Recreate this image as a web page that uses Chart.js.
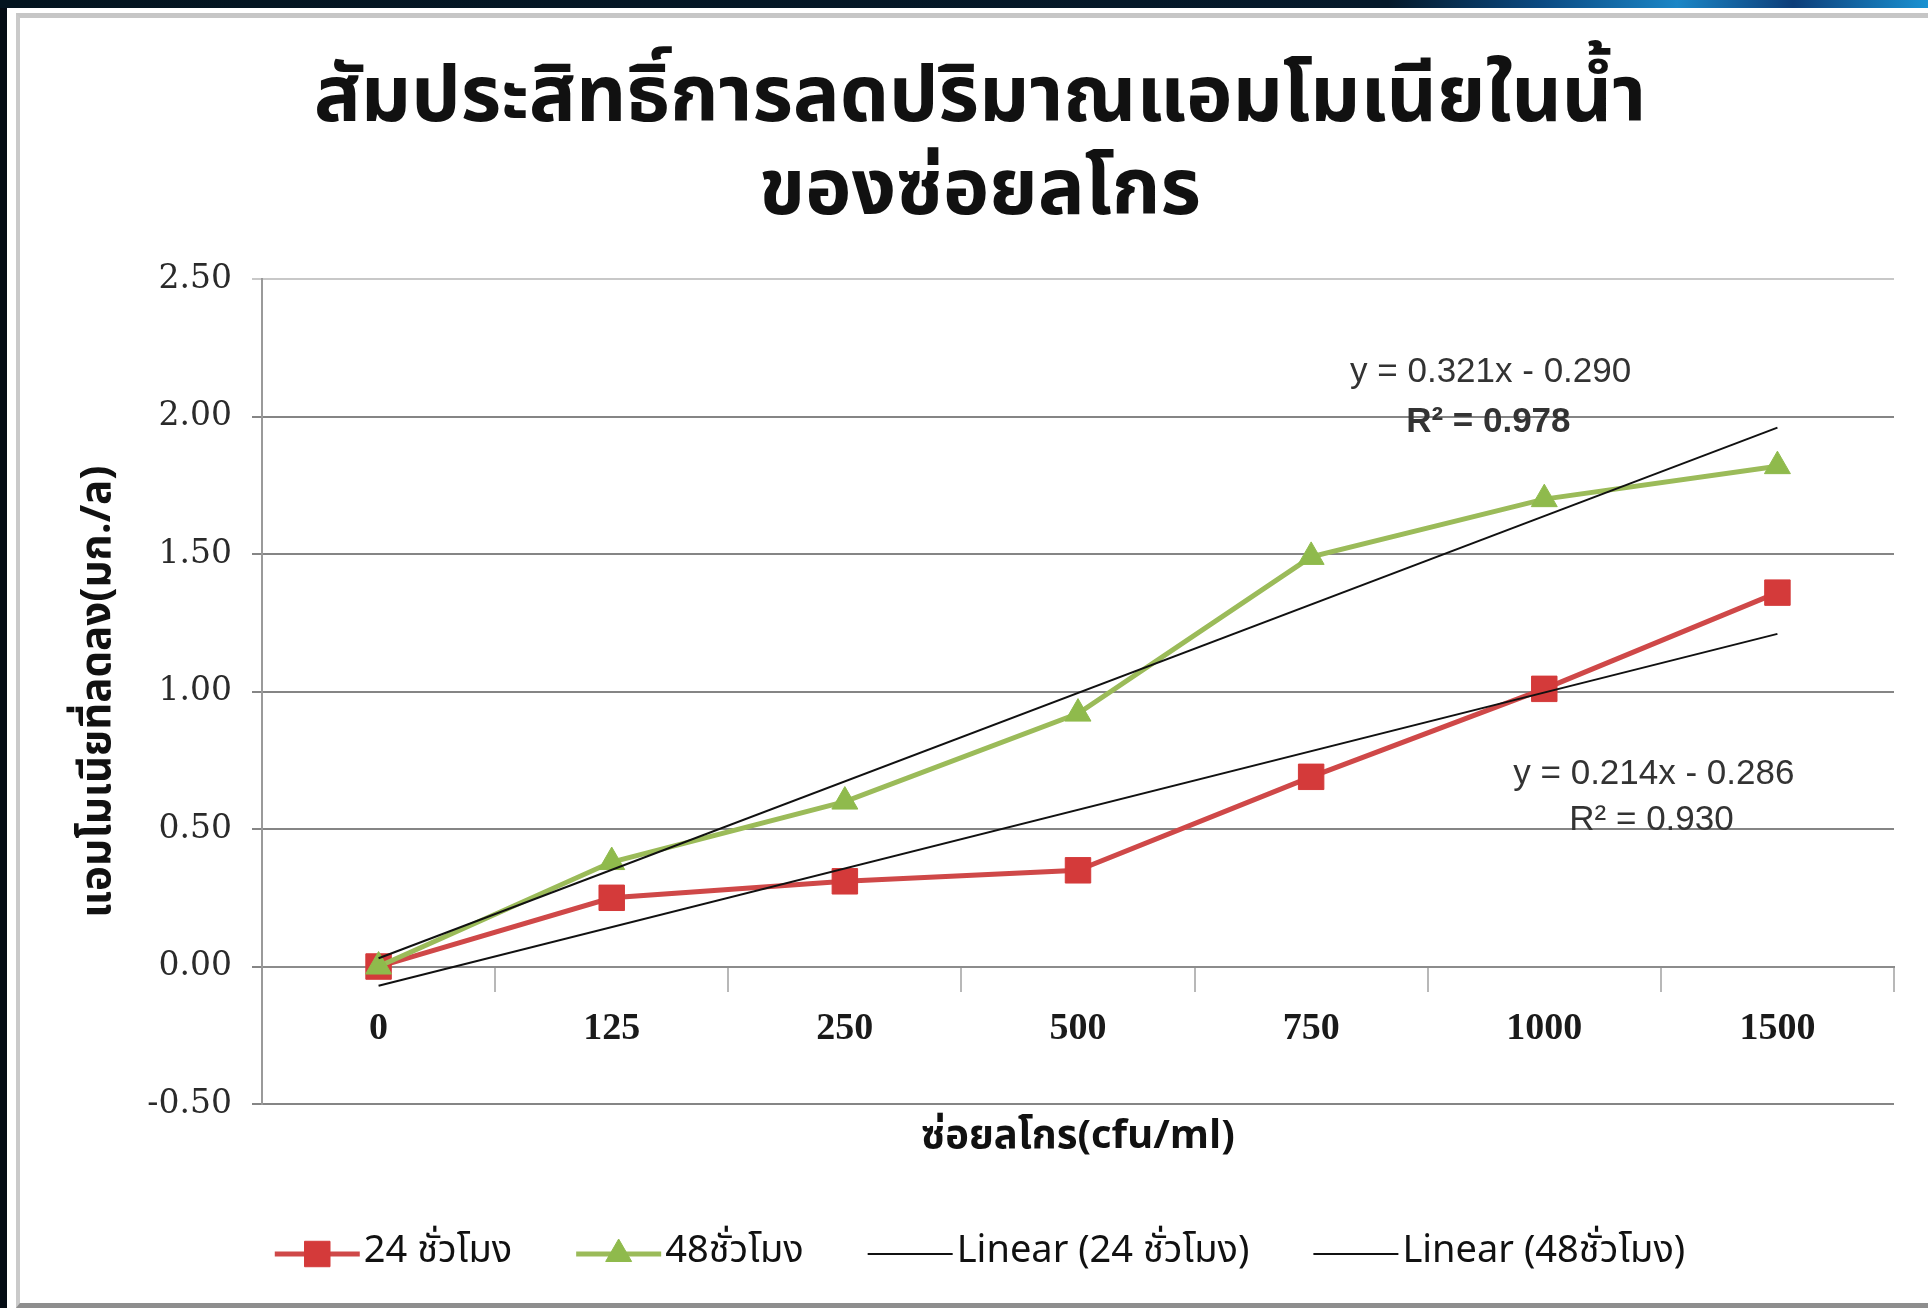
<!DOCTYPE html>
<html>
<head>
<meta charset="utf-8">
<script src="https://cdn.jsdelivr.net/npm/chart.js@4.4.0/dist/chart.umd.min.js"></script>
<style>
  html, body { margin: 0; padding: 0; width: 1928px; height: 1308px; overflow: hidden; background: #040c14; }
  #band { position: absolute; left: 0; top: 0; width: 1928px; height: 8px;
    background: linear-gradient(90deg, #03141f 0%, #05192a 72%, #0b4a82 80%, #1b86c6 87%, #0d3d78 93%, #1a92d2 100%); }
  #sheet { position: absolute; left: 7px; top: 8px; right: 0; bottom: 0; background: #fff; }
  #frame { position: absolute; left: 16px; top: 13px; width: 1920px; height: 1295px; box-sizing: border-box;
    border-top: 5px solid #c6c6c6; border-left: 4px solid #cacaca; border-bottom: 5px solid #8e8e8e; }
  #chart { position: absolute; left: 0; top: 0; }
</style>
</head>
<body>
<div id="band"></div>
<div id="sheet"></div>
<div id="frame"></div>
<canvas id="chart" width="1928" height="1308"></canvas>
<script>
// ข้อมูล
const categories = ['0', '125', '250', '500', '750', '1000', '1500'];
const hours24 = [0.00, 0.25, 0.31, 0.35, 0.69, 1.01, 1.36];
const hours48 = [0.00, 0.38, 0.60, 0.92, 1.49, 1.70, 1.82];
// เส้นแนวโน้ม: อ่านค่าปลายเส้นจากกราฟ
const trend24 = [-0.07, null, null, null, null, null, 1.21];
const trend48 = [0.03, null, null, null, null, null, 1.96];
const seriesNames = ['24 ชั่วโมง', '48ชั่วโมง', 'Linear (24 ชั่วโมง)', 'Linear (48ชั่วโมง)'];
const yTickValues = [-0.5, 0, 0.5, 1.0, 1.5, 2.0, 2.5];
const trendText48 = ['y = 0.321x - 0.290', 'R² = 0.978'];
const trendText24 = ['y = 0.214x - 0.286', 'R² = 0.930'];

const THAI = '"Noto Sans Thai", "Noto Sans", "DejaVu Sans", sans-serif';
const RED = '#cf4848';
const RED_MARK = '#d43a3a';
const GREEN = '#9bbb59';
const GREEN_MARK = '#8fba4c';

// วาดเครื่องหมายใน legend + ข้อความสมการ
const extrasPlugin = {
  id: 'extras',
  afterDraw(chart) {
    const ctx = chart.ctx;
    const { x, y } = chart.scales;

    // สมการเส้นแนวโน้ม
    ctx.save();
    ctx.fillStyle = '#333';
    ctx.textAlign = 'center';
    ctx.textBaseline = 'middle';
    ctx.font = '35px "Liberation Sans", sans-serif';
    ctx.fillText(trendText48[0], x.getPixelForValue(4.77), y.getPixelForValue(2.16));
    ctx.font = 'bold 35px "Liberation Sans", sans-serif';
    ctx.fillText(trendText48[1], x.getPixelForValue(4.76), y.getPixelForValue(1.98));
    ctx.font = '35px "Liberation Sans", sans-serif';
    ctx.fillText(trendText24[0], x.getPixelForValue(5.47), y.getPixelForValue(0.70));
    ctx.fillText(trendText24[1], x.getPixelForValue(5.46), y.getPixelForValue(0.53));
    ctx.restore();

    // สัญลักษณ์ใน legend: เส้น + เครื่องหมาย
    const legend = chart.legend;
    const lineLen = legend.options.labels.boxWidth + legend.options.labels.font.size / 2 - 4;
    legend.legendHitBoxes.forEach((hb, i) => {
      const item = legend.legendItems[i];
      const ds = chart.data.datasets[item.datasetIndex];
      const cy = hb.top + hb.height / 2;
      ctx.save();
      ctx.strokeStyle = ds.borderColor;
      ctx.lineWidth = ds.borderWidth;
      ctx.beginPath();
      ctx.moveTo(hb.left, cy);
      ctx.lineTo(hb.left + lineLen, cy);
      ctx.stroke();
      if (ds.pointRadius > 0) {
        ctx.fillStyle = ds.backgroundColor;
        ctx.strokeStyle = ds.pointBorderColor;
        ctx.lineWidth = 1;
        Chart.helpers.drawPoint(ctx, {
          pointStyle: ds.pointStyle,
          radius: ds.pointRadius,
          borderWidth: 1,
          rotation: 0
        }, hb.left + lineLen / 2, cy);
      }
      ctx.restore();
    });
  }
};

const chart = new Chart(document.getElementById('chart').getContext('2d'), {
  type: 'line',
  data: {
    labels: categories,
    datasets: [
      {
        label: seriesNames[0],
        data: hours24,
        borderColor: RED,
        backgroundColor: RED_MARK,
        pointBorderColor: RED_MARK,
        borderWidth: 5,
        pointStyle: 'rect',
        pointRadius: 18,
        pointBorderWidth: 1,
        order: 3
      },
      {
        label: seriesNames[1],
        data: hours48,
        borderColor: GREEN,
        backgroundColor: GREEN_MARK,
        pointBorderColor: GREEN_MARK,
        borderWidth: 5,
        pointStyle: 'triangle',
        pointRadius: 15,
        pointBorderWidth: 1,
        order: 2
      },
      {
        label: seriesNames[2],
        data: trend24,
        borderColor: '#111',
        borderWidth: 2,
        pointRadius: 0,
        spanGaps: true,
        order: 1
      },
      {
        label: seriesNames[3],
        data: trend48,
        borderColor: '#111',
        borderWidth: 2,
        pointRadius: 0,
        spanGaps: true,
        order: 0
      }
    ]
  },
  options: {
    responsive: false,
    animation: false,
    layout: { padding: { left: 66, right: 34, top: 0, bottom: 25 } },
    scales: {
      x: {
        type: 'category',
        offset: true,
        position: { y: 0 },
        grid: { display: true, offset: true, drawOnChartArea: false, drawTicks: true, tickLength: 24, color: '#b8b8b8', lineWidth: 2 },
        border: { display: true, color: '#8c8c8c', width: 2 },
        ticks: { color: '#1a1a1a', padding: 16, font: { family: '"Liberation Serif", serif', size: 38, weight: 'bold' } }
      },
      x2: {
        type: 'category',
        position: 'bottom',
        labels: categories,
        grid: { display: false, drawTicks: false },
        border: { display: false },
        ticks: { display: false },
        title: {
          display: true,
          text: 'ซ่อยลโกร(cfu/ml)',
          color: '#111',
          font: { family: THAI, size: 40, weight: 'bold' },
          padding: { top: 12, bottom: 7 }
        }
      },
      y: {
        min: yTickValues[0],
        max: yTickValues[yTickValues.length - 1],
        afterFit: (scale) => { scale.width = 196; },
        afterBuildTicks: (scale) => { scale.ticks = yTickValues.map(v => ({ value: v })); },
        grid: {
          color: (c) => (c.tick && c.tick.value === 2.5 ? '#c8c8c8' : '#858585'),
          lineWidth: 2,
          tickLength: 10
        },
        border: { display: true, color: '#9a9a9a', width: 2 },
        ticks: {
          color: '#2a2a2a',
          padding: 20,
          font: { family: '"DejaVu Serif", serif', size: 33 },
          callback: (v) => Number(v).toFixed(2)
        },
        title: {
          display: true,
          text: 'แอมโมเนียที่ลดลง(มก./ล)',
          color: '#111',
          font: { family: THAI, size: 42, weight: 'bold' },
          padding: { top: 10, bottom: 0 }
        }
      }
    },
    plugins: {
      title: {
        display: true,
        text: ['สัมประสิทธิ์การลดปริมาณแอมโมเนียในน้ำ', 'ของซ่อยลโกร'],
        color: '#111',
        font: { family: THAI, size: 78, weight: 'bold', lineHeight: 1.2 },
        padding: { top: 58, bottom: 34 }
      },
      legend: {
        position: 'bottom',
        labels: {
          boxWidth: 70,
          boxHeight: 24,
          padding: 64,
          color: '#111',
          font: { family: THAI, size: 38 },
          sort: (a, b) => a.datasetIndex - b.datasetIndex,
          generateLabels: (chart) => {
            const items = Chart.defaults.plugins.legend.labels.generateLabels(chart);
            items.forEach(it => {
              it.fillStyle = 'rgba(0,0,0,0)';
              it.strokeStyle = 'rgba(0,0,0,0)';
              it.lineWidth = 0;
            });
            return items;
          }
        }
      },
      tooltip: { enabled: false }
    }
  },
  plugins: [extrasPlugin]
});
</script>
</body>
</html>
